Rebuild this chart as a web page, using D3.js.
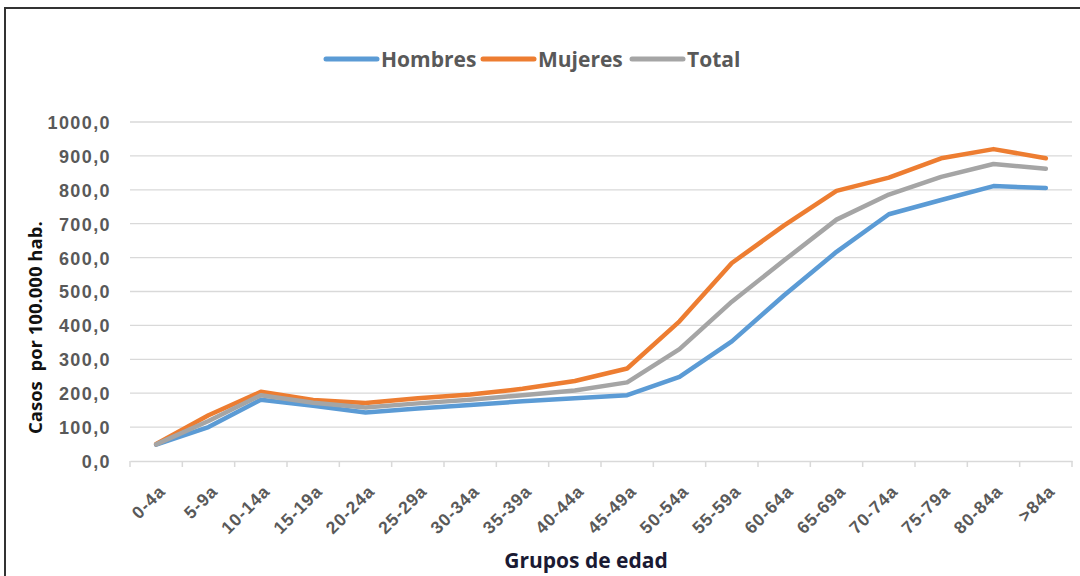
<!DOCTYPE html>
<html lang="es">
<head>
<meta charset="UTF-8">
<title>Casos por 100.000 hab. por grupos de edad</title>
<script src="https://d3js.org/d3.v7.min.js"></script>
<style>
    body, html { margin: 0; background: #fff; }
    svg { display: block; font-family: "Open Sans", "Noto Sans", sans-serif; }
    .grid line { stroke: #d9d9d9; stroke-width: 1.3px; }
    .ytick text { fill: #595959; font-size: 18px; font-weight: 700; letter-spacing: 1.4px; }
    .xtick text { fill: #595959; font-size: 17.5px; font-weight: 700; letter-spacing: 1px; }
    .legend text { fill: #595959; font-size: 21px; font-weight: 700; }
</style>
</head>
<body>
<script>
    // age groups
    const grupos = ["0-4a", "5-9a", "10-14a", "15-19a", "20-24a", "25-29a", "30-34a", "35-39a", "40-44a",
        "45-49a", "50-54a", "55-59a", "60-64a", "65-69a", "70-74a", "75-79a", "80-84a", ">84a"];

    const hombres = [48, 100, 181, 163, 143, 155, 165, 176, 185, 194, 248, 353, 489, 617, 728, 770, 811, 805];
    const mujeres = [50, 135, 204, 180, 171, 185, 196, 213, 236, 273, 412, 584, 695, 797, 836, 893, 920, 893];
    const total   = [49, 118, 194, 172, 158, 170, 181, 194, 208, 232, 330, 470, 592, 712, 786, 838, 876, 862];

    const yTicks = [0, 100, 200, 300, 400, 500, 600, 700, 800, 900, 1000];

    const series = [
        { name: "Hombres", values: hombres, color: "#5b9bd5" },
        { name: "Mujeres", values: mujeres, color: "#ed7d31" },
        { name: "Total", values: total, color: "#a5a5a5" }
    ];

    const width = 1080, height = 576;
    const margin = { left: 130, right: 8, top: 122, bottom: 115 };

    const svg = d3.select("body").append("svg")
        .attr("width", width)
        .attr("height", height);

    // chart frame
    svg.append("rect")
        .attr("x", 5).attr("y", 8)
        .attr("width", width - 3).attr("height", height)
        .attr("fill", "none")
        .attr("stroke", "#333")
        .attr("stroke-width", 2);

    const x = d3.scaleBand()
        .domain(grupos)
        .range([margin.left, width - margin.right]);

    const y = d3.scaleLinear()
        .domain([0, 1000])
        .range([height - margin.bottom, margin.top]);

    // gridlines
    svg.append("g")
        .attr("class", "grid")
        .selectAll("line")
        .data(yTicks.filter(d => d > 0))
        .join("line")
        .attr("x1", margin.left)
        .attr("x2", width - margin.right)
        .attr("y1", d => y(d))
        .attr("y2", d => y(d));

    // y axis labels
    const yAxis = svg.append("g")
        .attr("class", "ytick")
        .attr("transform", `translate(${margin.left}, 0)`)
        .call(d3.axisLeft(y).tickValues(yTicks).tickSize(0).tickPadding(19)
            .tickFormat(d => d3.format(".1f")(d).replace(".", ",")));
    yAxis.select(".domain").remove();
    yAxis.selectAll("text").attr("dy", "0.36em");

    // x axis
    const xAxis = svg.append("g")
        .attr("class", "xtick")
        .attr("transform", `translate(0, ${y(0)})`)
        .call(d3.axisBottom(x).tickSize(0).tickPadding(0));
    xAxis.select(".domain").attr("stroke", "#d9d9d9").attr("stroke-width", 1.5);
    xAxis.selectAll("text")
        .attr("text-anchor", "end")
        .attr("transform", "translate(6, 27) rotate(-45)")
        .attr("dy", "0.35em");

    // category boundary ticks
    svg.append("g")
        .selectAll("line")
        .data(grupos.map(d => x(d)).concat([width - margin.right]))
        .join("line")
        .attr("x1", d => d).attr("x2", d => d)
        .attr("y1", y(0)).attr("y2", y(0) + 6)
        .attr("stroke", "#d9d9d9")
        .attr("stroke-width", 1.5);

    // lines
    const line = d3.line()
        .x((d, i) => x(grupos[i]) + x.bandwidth() / 2)
        .y(d => y(d));

    svg.append("g")
        .selectAll("path")
        .data(series)
        .join("path")
        .attr("d", d => line(d.values))
        .attr("fill", "none")
        .attr("stroke", d => d.color)
        .attr("stroke-width", 4.5)
        .attr("stroke-linejoin", "round")
        .attr("stroke-linecap", "round");

    // legend
    const legend = svg.append("g").attr("class", "legend");
    const legendX = [326, 483, 632];
    series.forEach((s, i) => {
        const g = legend.append("g").attr("transform", `translate(${legendX[i]}, 59)`);
        g.append("line")
            .attr("x1", 0).attr("x2", 51)
            .attr("stroke", s.color)
            .attr("stroke-width", 5)
            .attr("stroke-linecap", "round");
        g.append("text")
            .attr("x", 55)
            .attr("dy", "0.36em")
            .text(s.name);
    });

    // axis titles
    svg.append("text")
        .attr("transform", "translate(42, 434) rotate(-90)")
        .attr("text-anchor", "start")
        .attr("font-size", 18.5)
        .attr("font-weight", 700)
        .attr("fill", "#111")
        .style("white-space", "pre")
        .text("Casos  por 100.000 hab.");

    svg.append("text")
        .attr("x", 586)
        .attr("y", 568)
        .attr("text-anchor", "middle")
        .attr("font-size", 21)
        .attr("font-weight", 700)
        .attr("fill", "#1a1a33")
        .text("Grupos de edad");
</script>
</body>
</html>
